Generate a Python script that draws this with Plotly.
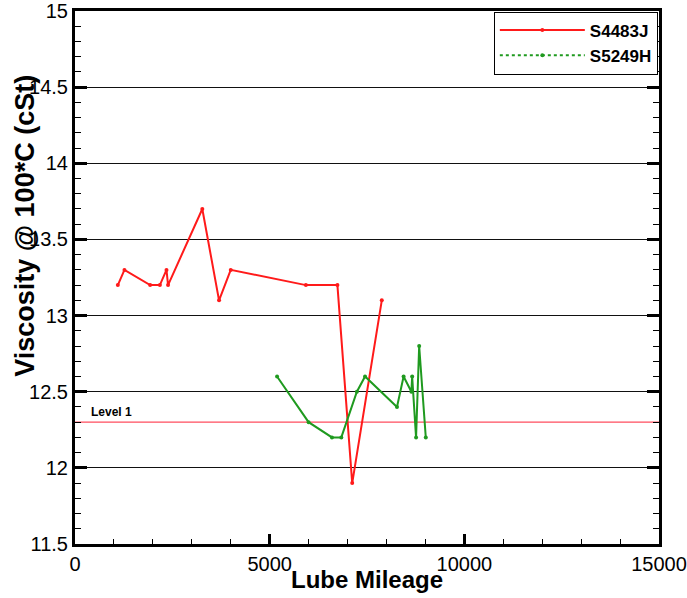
import plotly.graph_objects as go

# Data
s4483j_mileage = [1100, 1270, 1930, 2180, 2350, 2390, 3270, 3700, 4000, 5930, 6740, 7120, 7880]
s4483j_visc = [13.2, 13.3, 13.2, 13.2, 13.3, 13.2, 13.7, 13.1, 13.3, 13.2, 13.2, 11.9, 13.1]

s5249h_mileage = [5190, 6000, 6600, 6840, 7240, 7450, 8270, 8440, 8640, 8660, 8760, 8840, 9010]
s5249h_visc = [12.6, 12.3, 12.2, 12.2, 12.5, 12.6, 12.4, 12.6, 12.5, 12.6, 12.2, 12.8, 12.2]

level1_value = 12.3
level1_label = "Level 1"
x_range = [0, 15000]
y_range = [11.5, 15]
x_tickvals = [0, 5000, 10000, 15000]
x_ticktext = ["0", "5000", "10000", "15000"]

red = "#ff1a1a"
green = "#1f9a1f"
font_family = "Liberation Sans, Arial, sans-serif"

fig = go.Figure()

fig.add_trace(go.Scatter(
    x=x_range, y=[level1_value, level1_value], mode="lines",
    line=dict(color="#ff4d5e", width=1.2), showlegend=False, hoverinfo="skip"))

fig.add_trace(go.Scatter(
    x=s4483j_mileage, y=s4483j_visc, mode="lines+markers", name="<b>S4483J</b>",
    line=dict(color=red, width=2), marker=dict(color=red, size=4)))

fig.add_trace(go.Scatter(
    x=s5249h_mileage, y=s5249h_visc, mode="lines+markers", name="<b>S5249H</b>",
    line=dict(color=green, width=2), marker=dict(color=green, size=4),
    showlegend=False))

# legend entry for the green series (dotted, as in the reference legend)
fig.add_trace(go.Scatter(
    x=[None], y=[None], mode="lines+markers", name="<b>S5249H</b>",
    line=dict(color=green, width=2, dash="dot"), marker=dict(color=green, size=4)))

fig.add_annotation(x=350, y=level1_value, text="<b>" + level1_label + "</b>",
                   xanchor="left", yanchor="bottom", showarrow=False,
                   font=dict(size=12, color="black"), yshift=1)

fig.add_annotation(xref="paper", yref="paper", x=0.5, y=-0.0657, yanchor="middle",
                   text="<b>Lube Mileage</b>", showarrow=False,
                   font=dict(size=24, color="black"))
fig.add_annotation(xref="paper", yref="paper", x=-0.0856, y=0.597, xanchor="center",
                   text="<b>Viscosity @ 100*C (cSt)</b>", showarrow=False, textangle=-90,
                   font=dict(size=27, color="black"))

fig.update_layout(
    width=687, height=598,
    margin=dict(l=75, r=28, t=11, b=54),
    plot_bgcolor="white", paper_bgcolor="white",
    font=dict(family=font_family, color="black"),
    legend=dict(x=0.998, y=0.999, xanchor="right", yanchor="top",
                bgcolor="white", bordercolor="black", borderwidth=1,
                font=dict(size=17, family=font_family, color="black"),
                itemwidth=85, tracegroupgap=0),
)

fig.update_xaxes(
    range=x_range, tickvals=x_tickvals, ticktext=x_ticktext,
    ticks="inside", ticklen=10, tickwidth=2.5, tickcolor="black",
    minor=dict(ticks="inside", ticklen=5, tickwidth=1, tickcolor="black", dtick=1000, showgrid=False),
    showgrid=False, zeroline=False,
    showline=True, linecolor="black", linewidth=3, mirror=True,
    tickfont=dict(size=20), automargin=False, ticklabeloverflow="allow",
)

fig.update_yaxes(
    range=y_range, dtick=0.5, tick0=11.5,
    ticks="inside", ticklen=12, tickwidth=3, tickcolor="black",
    minor=dict(ticks="inside", ticklen=6, tickwidth=1, tickcolor="black", dtick=0.1, showgrid=False),
    showgrid=True, gridcolor="#111111", gridwidth=1.2, zeroline=False,
    showline=True, linecolor="black", linewidth=3, mirror="ticks",
    tickfont=dict(size=20), automargin=False, ticklabeloverflow="allow",
)

fig.write_html("out.html", config={"displayModeBar": False},
               post_script="document.body.style.margin='0';")
